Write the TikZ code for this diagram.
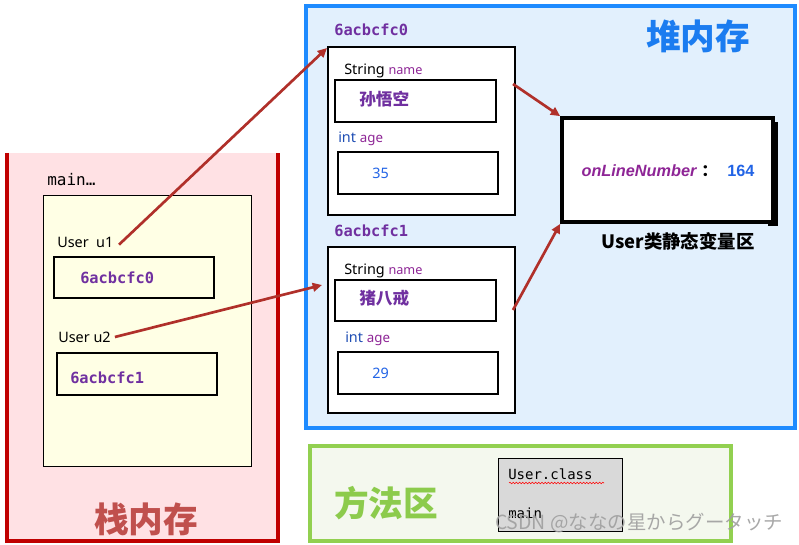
\documentclass[tikz,border=0pt]{standalone}
\usepackage{fontspec}
\setmainfont{Noto Sans}
\newfontfamily\cjk{Noto Sans CJK SC}
\newfontfamily\cjkjp{Noto Sans CJK JP}
\newfontfamily\monof{DejaVu Sans Mono}
\newfontfamily\arialf{Liberation Sans}
\usetikzlibrary{fit,decorations.pathmorphing,arrows.meta}
\definecolor{stackfill}{HTML}{FFE1E4}
\definecolor{stackline}{HTML}{C00000}
\definecolor{stacktext}{HTML}{C0504D}
\definecolor{yellowfill}{HTML}{FFFFE5}
\definecolor{heapfill}{HTML}{E2F0FD}
\definecolor{heapline}{HTML}{1E8BFF}
\definecolor{heaptext}{HTML}{1B7CF0}
\definecolor{addr}{HTML}{7030A0}
\definecolor{fieldname}{HTML}{8E2596}
\definecolor{inttype}{HTML}{1F4EB4}
\definecolor{numblue}{HTML}{2264E6}
\definecolor{greenline}{HTML}{92D050}
\definecolor{greenfill}{HTML}{F4F8EE}
\definecolor{greentext}{HTML}{8CCB4C}
\definecolor{arrowc}{HTML}{B0302A}
\definecolor{graybox}{HTML}{D9D9D9}
\tikzset{
  objframe/.style={fit={#1}, inner sep=0pt, draw=black, line width=1.8pt, fill=white},
  thinframe/.style={fit={#1}, inner sep=0pt, draw=black, line width=0.6pt},
  addrtext/.style={font=\monof\bfseries\fontsize{11.5}{13}\selectfont, text=addr, inner sep=0pt},
  lbl/.style={font=\fontsize{10.8}{12}\selectfont, inner sep=0pt},
  bigtitle/.style={font=\cjk\bfseries\fontsize{26}{30}\selectfont, inner sep=0pt},
  ptr/.style={draw=arrowc, line width=2pt, -{Triangle[length=7pt,width=6.5pt]}},
}
\begin{document}
\begin{tikzpicture}[x=0.75pt,y=-0.75pt]
\useasboundingbox (0,0) rectangle (799,545);
% ---------- stack ----------
\fill[stackfill] (7,153) rectangle (278,541);
\draw[stackline, line width=2.6pt] (7,153) -- (7,541) -- (278,541) -- (278,153);
\node[font=\monof\fontsize{12}{14}\selectfont, anchor=west, inner sep=0pt] (mainlbl) at (47,180) {main…};
\node[thinframe={(43,195) (251,466)}, fill=yellowfill] (mframe) {};
\node[lbl, anchor=west] (u1) at (57,242) {User\ \ u1};
\node[objframe={(54,257) (214,298)}, fill=none] (u1box) {};
\node[addrtext, anchor=west] at (80,278) {6acbcfc0};
\node[lbl, anchor=west] (u2) at (58,337) {User u2};
\node[objframe={(57,353) (217,395)}, fill=none] (u2box) {};
\node[addrtext, anchor=west] at (70,378) {6acbcfc1};
\node[bigtitle, text=stacktext] (stacktitle) at (146,519) {栈内存};
% ---------- heap ----------
\node[fit={(306,6) (795,428)}, inner sep=0pt, draw=heapline, line width=2.6pt, fill=heapfill] (heap) {};
\node[bigtitle, text=heaptext] (heaptitle) at (698,36) {堆内存};
% object 1
\node[addrtext, anchor=west] (a0) at (334,30) {6acbcfc0};
\node[objframe={(328,47) (515,215)}] (obj1) {};
\node[lbl, anchor=west] at (344,71) {String \textcolor{fieldname}{\fontsize{9.5}{10}\selectfont name}};
\node[objframe={(335,80) (496,122)}] (name1) {};
\node[font=\cjk\bfseries\fontsize{12.5}{14}\selectfont, text=addr, anchor=west, inner sep=0pt] at (359,99) {孙悟空};
\node[lbl, anchor=west, text=inttype] at (338,139) {int \textcolor{fieldname}{\fontsize{10}{10}\selectfont age}};
\node[objframe={(338,152) (498,194)}] (age1) {};
\node[lbl, anchor=west, text=numblue] at (372,173) {35};
% object 2
\node[addrtext, anchor=west] (a1) at (334,231) {6acbcfc1};
\node[objframe={(328,247) (515,413)}] (obj2) {};
\node[lbl, anchor=west] at (344,271) {String \textcolor{fieldname}{\fontsize{9.5}{10}\selectfont name}};
\node[objframe={(335,280) (496,321)}] (name2) {};
\node[font=\cjk\bfseries\fontsize{12.5}{14}\selectfont, text=addr, anchor=west, inner sep=0pt] at (359,298) {猪八戒};
\node[lbl, anchor=west, text=inttype] at (345,339) {int \textcolor{fieldname}{\fontsize{10}{10}\selectfont age}};
\node[objframe={(338,352) (498,394)}] (age2) {};
\node[lbl, anchor=west, text=numblue] at (372,373) {29};
% static area
\fill[black] (768,122) rectangle (778,226);
\node[fit={(562,118) (773,222)}, inner sep=0pt, draw=black, line width=2.8pt, fill=white] (static) {};
\node[font=\arialf\fontsize{12.2}{14}\selectfont, inner sep=0pt] (sval) at (668,171)
  {\textcolor{fieldname}{\bfseries\itshape onLineNumber}\hspace{0.3em}{\cjk\bfseries ：}\hspace{0.6em}\textcolor{numblue}{\bfseries 164}};
\node[font=\cjk\bfseries\fontsize{13.8}{16}\selectfont, inner sep=0pt] (statictitle) at (678,241) {User类静态变量区};
% ---------- method area ----------
\node[fit={(310,446) (731,541)}, inner sep=0pt, draw=greenline, line width=2.6pt, fill=greenfill] (method) {};
\node[bigtitle, text=greentext] (methodtitle) at (386,503) {方法区};
\node[thinframe={(498,458) (622,531)}, fill=graybox] (classbox) {};
\node[font=\monof\fontsize{10.5}{12}\selectfont, anchor=west, inner sep=0pt] (cls) at (508,474) {User.class};
\draw[red, line width=0.4pt, decorate, decoration={snake, amplitude=0.6pt, segment length=2.4pt}] (509,483) -- (604,483);
\node[font=\monof\fontsize{10.5}{12}\selectfont, anchor=west, inner sep=0pt] (mainm) at (508,513) {main};
\node[font=\cjkjp\fontsize{14.6}{16}\selectfont, text=gray!75, opacity=0.9, inner sep=0pt] (wm) at (639,523) {CSDN @ななの星からグータッチ};
% ---------- pointers ----------
\coordinate (o1in) at (327,48);
\coordinate (o2in) at (322,285);
\coordinate (n1out) at (513,84);
\coordinate (n2out) at (513,310);
\draw[ptr] ([xshift=4pt,yshift=-2pt]u1.east) -- (o1in);
\draw[ptr] ([xshift=3pt]u2.east) -- (o2in);
\draw[ptr] (n1out) -- (static.north west);
\draw[ptr] (n2out) -- (static.south west);
\end{tikzpicture}
\end{document}
